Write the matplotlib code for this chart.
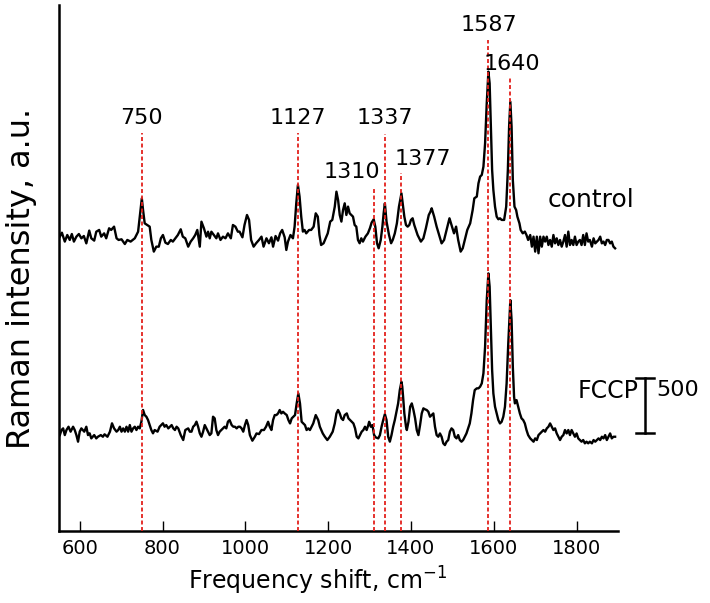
import matplotlib
matplotlib.use("Agg")
import matplotlib.pyplot as plt
import numpy as np

# ---------------- data (Raman shift in cm^-1, intensity in a.u.) ----------------
control_shift = [552, 557, 564, 570, 576, 581, 586, 592, 598, 604, 610, 616, 623, 628, 635, 640, 647, 652, 659, 664,
                 671, 676, 683, 689, 694, 701, 709, 715, 723, 733, 741, 746, 750, 753, 757, 763, 769, 773, 779, 785,
                 791, 796, 801, 807, 813, 820, 825, 831, 837, 844, 849, 855, 862, 868, 874, 879, 884, 890, 894, 900,
                 906, 910, 914, 918, 924, 930, 934, 940, 946, 952, 958, 965, 970, 976, 982,
                 986, 993, 998, 1004, 1009, 1014, 1020, 1026, 1033, 1039, 1044, 1051, 1057, 1063, 1067, 1073, 1079,
                 1084, 1089, 1095, 1099, 1103, 1109, 1115, 1119, 1123, 1127, 1131, 1135, 1139, 1143, 1147, 1154, 1159,
                 1165, 1170, 1175, 1179, 1183, 1189, 1194, 1199, 1205, 1210, 1216, 1220, 1224, 1228, 1232, 1236, 1240,
                 1244, 1248, 1252, 1260, 1264, 1268, 1272, 1276, 1280, 1284, 1290, 1296, 1301, 1305, 1310, 1314, 1318,
                 1322, 1327, 1331, 1334, 1337, 1341, 1347, 1352, 1356, 1361, 1366, 1371, 1377, 1381, 1384, 1388, 1392,
                 1396, 1400, 1404, 1408, 1412, 1416, 1424, 1430, 1436, 1443, 1447,
                 1450, 1456, 1462, 1468, 1474, 1480, 1486, 1493, 1498, 1504, 1509, 1514, 1520, 1525, 1530, 1536, 1543,
                 1549, 1553, 1559, 1563, 1567, 1571, 1575, 1579, 1583, 1587, 1590, 1593, 1596, 1599, 1603, 1607, 1611,
                 1615, 1619, 1625, 1630, 1634, 1637, 1640, 1643, 1646, 1650, 1654, 1657, 1662, 1665, 1670, 1675, 1679,
                 1683, 1688, 1692, 1696, 1700, 1704, 1708, 1712, 1716, 1720, 1724, 1728, 1732, 1736, 1740, 1744, 1748,
                 1752, 1756, 1760, 1764, 1768, 1772, 1776, 1780, 1784, 1788, 1792, 1796, 1800, 1804, 1808, 1812, 1816,
                 1820, 1824, 1828, 1832, 1837, 1841, 1845, 1849, 1853, 1857, 1861, 1865, 1869, 1873, 1877, 1881, 1885,
                 1889, 1893]
control_counts = [212, 248, 167, 227, 182, 236, 167, 212, 236, 197, 218, 151, 267, 197, 176, 257, 273, 212, 242, 197,
                  288, 273, 303, 197, 182, 188, 145, 182, 167, 197, 257, 424, 560, 454, 333, 318, 303, 182, 76, 121,
                  121, 197, 227, 157, 145, 182, 167, 197, 227, 279, 212, 197, 121, 167, 197, 227, 273, 121, 348, 288,
                  212, 257, 197, 257, 227, 197, 242, 182, 212, 197, 242, 197, 318, 303, 257,
                  258, 206, 318, 409, 364, 182, 121, 152, 182, 212, 121, 197, 152, 206, 121, 218, 176,
                  242, 273, 206, 91, 167, 227, 197, 303, 515, 682, 576, 394, 258, 273, 242, 273, 273,
                  303, 424, 394, 227, 136, 152, 197, 242, 349, 364, 485, 621, 545, 409, 349, 455, 515,
                  409, 485, 424, 394, 318, 303, 182, 152, 197, 167, 212, 242, 290, 340, 370, 300, 152,
                  106, 182, 303, 424, 515, 349, 227, 152, 182, 242, 333, 485, 606, 485, 394, 318, 303,
                  318, 364, 379, 318, 273, 227, 167, 197, 288, 409, 439,
                  470, 394, 303, 227, 151, 182, 273, 379, 318, 242, 303, 182, 76, 106, 182, 273, 333,
                  454, 561, 576, 697, 758, 773, 848, 1060, 1424, 1712, 1606, 1212, 818, 636, 485, 394, 370,
                  379, 364, 364, 485, 818, 1212, 1439, 1212, 727, 485, 454, 394, 333, 273, 242, 258, 227,
                  182, 227, 121, 212, 76, 212, 61, 212, 121, 212, 167, 212, 136, 182, 121, 227, 151,
                  197, 136, 182, 121, 167, 227, 121, 258, 136, 182, 136, 212, 136, 167, 182, 136, 227,
                  136, 242, 167, 182, 121, 197, 151, 167, 182, 212, 151, 167, 136, 182, 182, 151, 167,
                  121, 106]

fccp_shift = [552, 556, 560, 564, 568, 573, 578, 584, 588, 592, 596, 600, 604, 611, 616, 620, 624, 628, 635, 640,
              644, 651, 656, 660, 667, 673, 678, 683, 689, 693, 697, 701, 705, 709, 713, 717, 721, 725, 729, 733,
              737, 741, 745, 749, 753, 757, 761, 765, 769, 773, 777, 781, 788, 793, 797, 801, 805, 809, 814, 818,
              822, 826, 830, 834, 838, 844, 850, 855, 862, 866, 870, 874, 878, 882, 886, 890, 894, 898, 902, 906,
              910, 914, 918, 922, 926, 930, 934, 938, 942, 946, 950, 954, 958, 962, 967, 971, 975, 979, 983,
              987, 991, 995, 999, 1003, 1007, 1011, 1017, 1023, 1027, 1033, 1039, 1045, 1050, 1055, 1059, 1063,
              1067, 1071, 1075, 1079, 1083, 1087, 1091, 1095, 1100, 1104, 1108, 1112, 1116, 1120, 1124, 1128, 1132,
              1136, 1140, 1144, 1148, 1152, 1156, 1160, 1164, 1170, 1176, 1180, 1187, 1192, 1198, 1204, 1211, 1216,
              1220, 1224, 1228, 1232, 1236, 1240, 1245, 1249, 1253, 1257, 1261, 1265, 1269, 1273, 1277, 1281, 1285,
              1289, 1293, 1297, 1299, 1303, 1307, 1311, 1315, 1321, 1325, 1329, 1333, 1337, 1341, 1345, 1349, 1353,
              1357, 1361, 1369, 1373, 1377, 1379, 1381, 1384, 1388, 1390, 1394, 1398, 1402, 1406, 1410, 1414, 1418,
              1422, 1426, 1430, 1434, 1438, 1442,
              1446, 1450, 1454, 1458, 1462, 1466, 1470, 1474, 1478, 1482, 1486, 1490, 1494, 1498, 1502, 1506, 1510,
              1514, 1518, 1522, 1526, 1530, 1534, 1538, 1542, 1546, 1550, 1554, 1559, 1563, 1567, 1571, 1575, 1579,
              1583, 1587, 1590, 1593, 1596, 1599, 1603, 1607, 1611, 1615, 1619, 1623, 1627, 1631, 1635, 1640, 1643,
              1646, 1649, 1651, 1655, 1659, 1663, 1667, 1671, 1675, 1679, 1683, 1688, 1692, 1696, 1700, 1704, 1708,
              1712, 1716, 1720, 1724, 1728, 1732, 1736, 1740, 1744, 1748, 1752, 1756, 1760, 1764, 1768, 1772, 1776,
              1780, 1784, 1788, 1792, 1796, 1800, 1804, 1808, 1812, 1816, 1820, 1824, 1828, 1832, 1837, 1841, 1845,
              1849, 1853, 1857, 1861, 1865, 1869, 1873, 1877, 1881, 1885, 1889, 1893]
fccp_counts = [136, 182, 197, 136, 182, 212, 167, 212, 182, 136, 76, 167, 197, 167, 212, 136, 152, 106, 136, 106,
               121, 136, 121, 143, 121, 167, 243, 197, 167, 182, 212, 167, 197, 167, 212, 167, 227, 167, 197, 212,
               182, 212, 197, 258, 364, 318, 303, 273, 227, 182, 152, 182, 167, 212, 227, 243, 212, 227, 197, 212,
               227, 197, 182, 212, 197, 136, 91, 182, 197, 167, 167, 212, 227, 258, 212, 152, 121, 167, 227, 197,
               167, 136, 152, 303, 288, 182, 136, 167, 182, 197, 212, 197, 258, 273, 227, 212, 212, 197, 212,
               212, 197, 167, 227, 273, 227, 136, 85, 121, 151, 145, 182, 182, 212, 257, 212, 182,
               273, 318, 318, 333, 364, 333, 348, 333, 318, 273, 242, 288, 303, 318, 424, 515, 424,
               257, 242, 227, 182, 197, 182, 212, 242, 318, 273, 212, 151, 121, 91, 121, 167, 242,
               333, 364, 333, 288, 273, 318, 333, 288, 273, 257, 242, 197, 121, 106, 136, 167, 182,
               212, 182, 227, 257, 212, 227, 136, 115, 106, 136, 212, 273, 327, 273, 121, 76, 136,
               212, 273, 424, 545, 621, 576, 485, 333, 212, 182, 257, 394, 424, 364, 288, 182, 136,
               227, 333, 379, 370, 364, 348,
               303, 318, 333, 212, 136, 121, 151, 121, 61, 45, 76, 91, 167, 197, 182, 121, 106,
               136, 91, 76, 91, 121, 151, 197, 242, 333, 454, 545, 561, 561, 576, 606, 697, 939,
               1363, 1606, 1485, 1121, 727, 515, 394, 333, 273, 242, 257, 303, 394, 606, 970, 1363, 1182,
               757, 485, 424, 454, 394, 333, 288, 273, 242, 182, 136, 106, 91, 76, 106, 91, 136,
               151, 167, 182, 167, 197, 212, 242, 212, 182, 197, 151, 121, 91, 121, 136, 182, 151,
               182, 136, 182, 151, 121, 151, 106, 91, 76, 91, 61, 76, 61, 76, 61, 91, 76,
               91, 106, 91, 121, 106, 136, 91, 121, 151, 106, 121, 121]

peak_positions = [750, 1127, 1310, 1337, 1377, 1587, 1640]
peak_labels = ["750", "1127", "1310", "1337", "1377", "1587", "1640"]
x_ticks = [600, 800, 1000, 1200, 1400, 1600, 1800]
series_names = ["control", "FCCP"]
scale_bar_value = 500

# ---------------- layout / style ----------------
control_offset = 2464
fccp_offset = 736
label_x = [750, 1127, 1257, 1337, 1429, 1587, 1644]
label_y = [3754, 3754, 3263, 3754, 3381, 4600, 4245]
line_top = [3618, 3618, 3118, 3609, 3257, 4463, 4118]

fig = plt.figure(figsize=(7.10, 6.03), dpi=100)
ax = fig.add_axes([59 / 710, 72 / 603, (618 - 59) / 710, (531 - 5) / 603])

ax.plot(control_shift, np.array(control_counts) + control_offset, color="black", lw=1.7, zorder=2)
ax.plot(fccp_shift, np.array(fccp_counts) + fccp_offset, color="black", lw=1.7, zorder=2)

for p, lab, lx, ly, top in zip(peak_positions, peak_labels, label_x, label_y, line_top):
    ax.plot([p, p], [0, top], color="#e3211c", lw=1.3, ls=(0, (2.2, 1.4)), zorder=3)
    ax.text(lx, ly, lab, ha="center", va="center", fontsize=16)

ax.text(1731, 3009, series_names[0], ha="left", va="center", fontsize=18)
ax.text(1803, 1273, series_names[1], ha="left", va="center", fontsize=17)

# scale bar
bar_x = 1965
bar_y0 = 891
ax.plot([bar_x, bar_x], [bar_y0, bar_y0 + scale_bar_value], color="black", lw=1.8, clip_on=False)
for yy in (bar_y0, bar_y0 + scale_bar_value):
    ax.plot([bar_x - 22, bar_x + 22], [yy, yy], color="black", lw=1.8, clip_on=False)
ax.text(bar_x + 28, 1282, str(scale_bar_value), ha="left", va="center", fontsize=16)

ax.set_xlim(550, 1900)
ax.set_ylim(0, 4782)
ax.set_xticks(x_ticks)
ax.set_yticks([])
ax.spines["top"].set_visible(False)
ax.spines["right"].set_visible(False)
ax.spines["left"].set_linewidth(1.8)
ax.spines["bottom"].set_linewidth(1.8)
ax.tick_params(axis="x", direction="in", length=7, width=1, labelsize=14, pad=6)
ax.set_xlabel("Frequency shift, cm$^{-1}$", fontsize=17, labelpad=3)
ax.xaxis.set_label_coords(0.463, -0.065)
ax.set_ylabel("Raman intensity, a.u.", fontsize=23)
ax.yaxis.set_label_coords(-0.04, 0.48)

fig.savefig("out.png", dpi=100)
